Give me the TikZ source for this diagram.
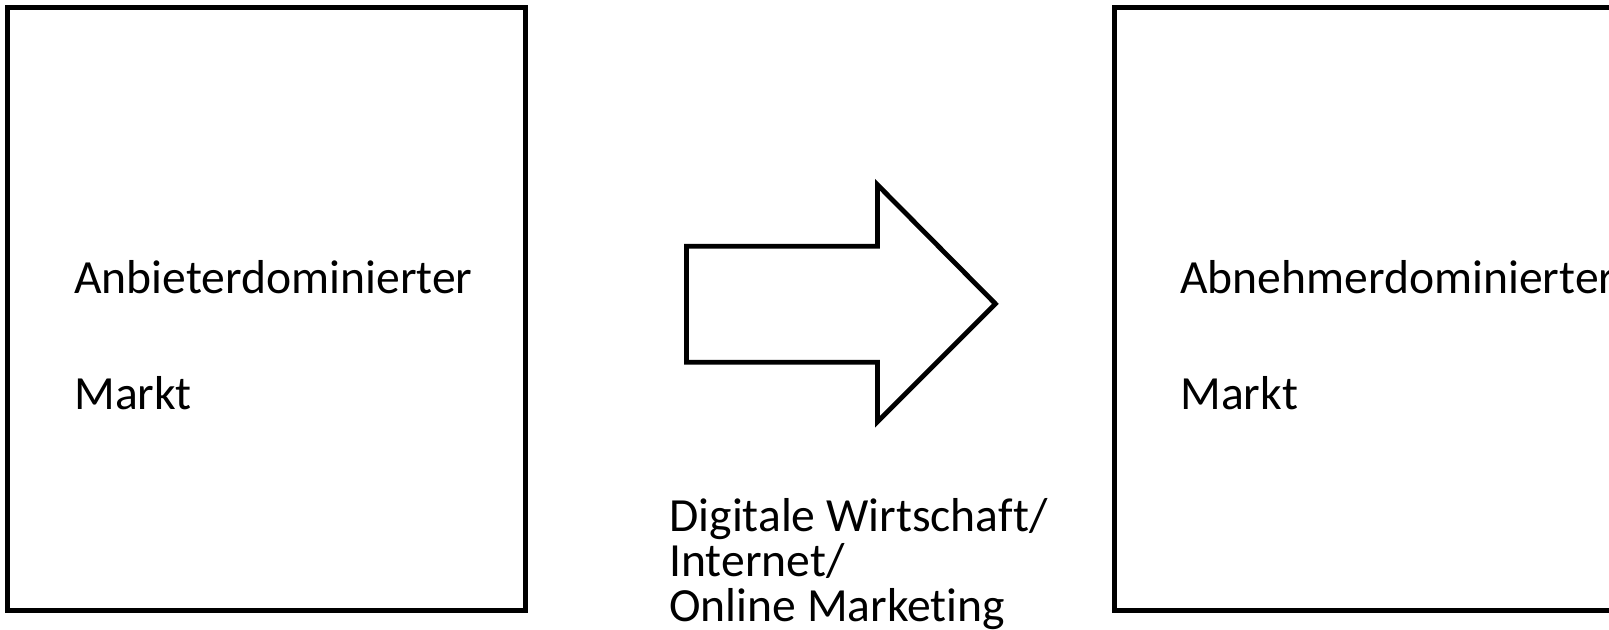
\documentclass[tikz,border=0pt]{standalone}
\usepackage{fontspec}
\setmainfont{Carlito}[Ligatures=NoCommon]
\begin{document}
\begin{tikzpicture}[x=0.5pt,y=-0.5pt,
  boxline/.style={draw=black,line width=2.4pt},
  lbl/.style={anchor=base west,inner sep=0pt,font=\fontsize{23.8}{28}\selectfont}]
\useasboundingbox (0,0) rectangle (1609,629);
\clip (0,0) rectangle (1609,629);
\fill[white] (0,0) rectangle (1609,629);
% left box
\draw[boxline] (7.2,7.2) rectangle (525.4,610.6);
\node[lbl] (a1) at (74,293) {Anbieterdominierter};
\node[lbl] (a2) at (74,409) {Markt};
% arrow
\draw[boxline,line join=miter] (686.5,246.3) -- (877.4,246.3) -- (877.4,184.7) -- (995.4,303.8)
  -- (877.4,421.8) -- (877.4,362.2) -- (686.5,362.2) -- cycle;
\node[lbl] (m1) at (669,531) {Digitale Wirtschaft/};
\node[lbl] (m2) at (669,576) {Internet/};
\node[lbl] (m3) at (669,621) {Online Marketing};
% right box
\draw[boxline] (1114.5,7.2) rectangle (1640,610.6);
\node[lbl] (b1) at (1180,293) {Abnehmerdominierter};
\node[lbl] (b2) at (1180,409) {Markt};
\end{tikzpicture}
\end{document}
